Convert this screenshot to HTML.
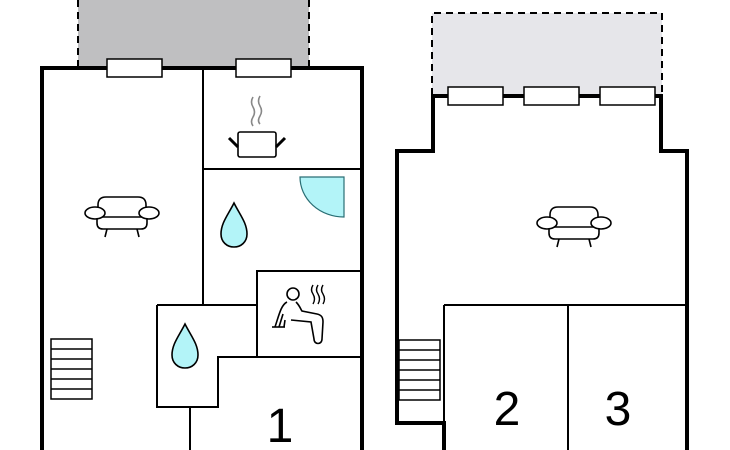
<!DOCTYPE html>
<html><head><meta charset="utf-8"><style>html,body{margin:0;padding:0;background:#fff}svg{display:block}</style></head><body>
<svg width="730" height="450" viewBox="0 0 730 450" xmlns="http://www.w3.org/2000/svg" font-family="Liberation Sans, sans-serif">
<defs>
<g id="sofa" fill="#fff" stroke="#000" stroke-width="1.6">
<path d="M-15,16 L-17,24 M15,16 L17,24" fill="none"/>
<path d="M-25,3 L-25,10 Q-25,16 -19,16 L19,16 Q25,16 25,10 L25,3 Z"/>
<path d="M-24,4 L-24,-8 Q-24,-16 -16,-16 L16,-16 Q24,-16 24,-8 L24,4 Z"/>
<ellipse cx="-27" cy="0" rx="10" ry="6"/>
<ellipse cx="27" cy="0" rx="10" ry="6"/>
</g>
<g id="drop"><path d="M0,-22 C-6,-10 -13,-2 -13,9 C-13,17 -7,22 0,22 C7,22 13,17 13,9 C13,-2 6,-10 0,-22 Z" fill="#b3f4f8" stroke="#000" stroke-width="1.6"/></g>
<g id="stairs" fill="#fff" stroke="#000" stroke-width="1.5">
<rect x="0" y="0" width="41" height="60"/>
<path d="M0,10H41M0,20H41M0,30H41M0,40H41M0,50H41"/>
</g>
</defs>

<!-- LEFT PLAN -->
<rect x="78" y="0" width="231" height="67" fill="#bfbfc1"/>
<path d="M78,0V67M309,0V67" stroke="#000" stroke-width="2" stroke-dasharray="7,5"/>
<rect x="42" y="68" width="320" height="400" fill="#fff" stroke="#000" stroke-width="4"/>
<g stroke="#000" stroke-width="2" fill="none">
<path d="M203,68V305"/>
<path d="M203,169H362"/>
<path d="M257,357V271H362"/>
<path d="M157,305H257M157,305V407H218V357H362"/>
<path d="M190,407V450"/>
</g>
<rect x="107" y="59" width="55" height="18" fill="#fff" stroke="#000" stroke-width="1.5"/>
<rect x="236" y="59" width="55" height="18" fill="#fff" stroke="#000" stroke-width="1.5"/>
<use href="#sofa" x="122" y="213"/>
<use href="#stairs" x="51" y="339"/>
<use href="#drop" x="234" y="225"/>
<use href="#drop" x="185" y="346"/>
<path d="M344,177 L300,177 A44,40 0 0 0 344,217 Z" fill="#b3f4f8" stroke="#2a6e74" stroke-width="1.2"/>
<!-- pot -->
<path d="M253,97 q-3,5 0,10 q3,5 0,10 q-3,5 0,9 M260,96 q-3,5 0,10 q3,5 0,10 q-3,5 0,8" fill="none" stroke="#888" stroke-width="1.6"/>
<rect x="238" y="132" width="38" height="25" rx="2" fill="#fff" stroke="#000" stroke-width="1.6"/>
<path d="M229,138L238,147M285,138L276,147" stroke="#000" stroke-width="3"/>
<!-- sauna -->
<g fill="none" stroke="#000" stroke-width="1.6">
<circle cx="293" cy="294" r="6"/>
<path d="M272,327H285"/>
<path d="M287,302 C281,305 279,315 275,327 M283,314 L279,327 M285,320 L284,327"/>
<path d="M296,302 C300,306 301,310 302,311 L317,314 C322,315 323,318 323,322 L322,339 C322,345 314,345 314,339 L311,322 L291,320"/>
<path d="M313,285 q-3,5 0,9 q3,5 0,10 M318,285 q-3,5 0,9 q3,5 0,10 M323,285 q-3,5 0,9 q3,5 0,10" stroke-width="1.4"/>
</g>
<text x="280" y="442" font-size="48" text-anchor="middle">1</text>

<!-- RIGHT PLAN -->
<rect x="432" y="13" width="230" height="82" fill="#e6e6ea"/>
<path d="M432,95V13H662V95" fill="none" stroke="#000" stroke-width="2" stroke-dasharray="7,5"/>
<path d="M444,460V423H397V151H433V96H661V151H687V460" fill="#fff" stroke="#000" stroke-width="4"/>
<g stroke="#000" stroke-width="2" fill="none">
<path d="M444,305H687"/>
<path d="M444,305V423"/>
<path d="M568,305V450"/>
</g>
<rect x="448" y="87" width="55" height="18" fill="#fff" stroke="#000" stroke-width="1.5"/>
<rect x="524" y="87" width="55" height="18" fill="#fff" stroke="#000" stroke-width="1.5"/>
<rect x="600" y="87" width="55" height="18" fill="#fff" stroke="#000" stroke-width="1.5"/>
<use href="#sofa" x="574" y="223"/>
<use href="#stairs" x="399" y="340"/>
<text x="507" y="425" font-size="48" text-anchor="middle">2</text>
<text x="618" y="425" font-size="48" text-anchor="middle">3</text>
</svg>
</body></html>
